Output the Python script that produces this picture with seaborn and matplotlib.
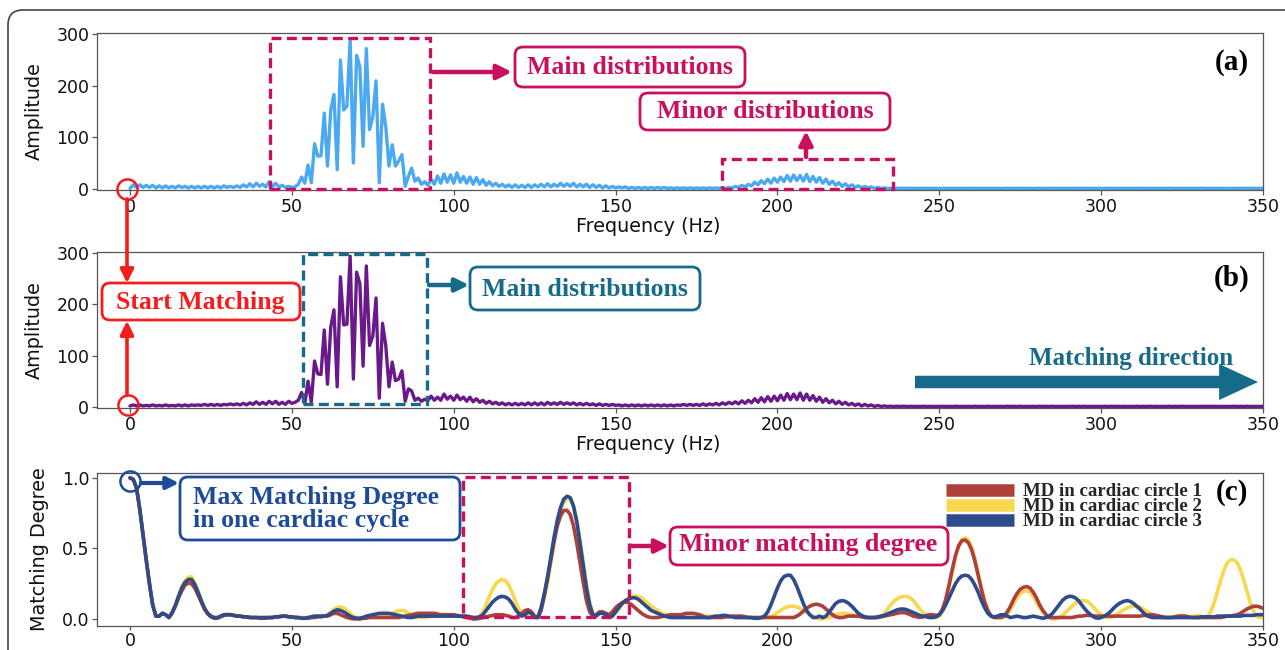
import matplotlib
matplotlib.use("Agg")
import numpy as np
import pandas as pd
import seaborn as sns
import matplotlib.pyplot as plt
from matplotlib.patches import Rectangle, FancyBboxPatch, FancyArrowPatch

# ---------------- data ----------------
freq = list(range(0, 351))

amp_a = [
    2, 9, 4, 9, 4, 8, 4, 8, 3, 7,
    3, 7, 3, 6, 3, 7, 4, 6, 3, 6,
    3, 6, 3, 6, 3, 6, 3, 6, 3, 7,
    4, 6, 4, 7, 4, 9, 5, 11, 5, 12,
    6, 10, 5, 15, 6, 12, 5, 8, 4, 6,
    4, 5, 10, 24, 12, 47, 13, 88, 64, 65,
    147, 45, 153, 183, 38, 249, 153, 160, 288, 51,
    258, 236, 83, 271, 115, 140, 209, 13, 164, 121,
    45, 86, 45, 55, 67, 6, 25, 41, 16, 22,
    10, 15, 8, 20, 10, 26, 12, 30, 14, 28,
    12, 32, 14, 25, 12, 24, 10, 23, 10, 19,
    8, 15, 7, 12, 6, 10, 5, 9, 4, 9,
    4, 8, 4, 9, 4, 9, 5, 10, 5, 11,
    5, 10, 6, 12, 6, 11, 6, 12, 5, 10,
    5, 10, 4, 9, 4, 8, 3, 7, 3, 6,
    3, 5, 3, 5, 2, 4, 2, 4, 2, 4,
    2, 4, 2, 4, 2, 4, 2, 3, 2, 3,
    2, 3, 2, 3, 2, 3, 2, 3, 2, 3,
    2, 3, 2, 3, 2, 4, 3, 6, 4, 8,
    5, 10, 7, 14, 9, 17, 11, 20, 12, 22,
    14, 24, 15, 27, 16, 28, 17, 27, 16, 29,
    15, 25, 14, 23, 12, 20, 10, 16, 8, 13,
    6, 11, 5, 9, 4, 7, 3, 6, 3, 5,
    2, 4, 2, 3, 2, 2.5, 2, 2.5, 2, 2.5,
    2, 2.4, 2, 2.3, 2, 2.4, 2, 2.3, 2, 2.2,
    2, 2.4, 2, 2.3, 2, 2.4, 2, 2.3, 2, 2.2,
    2, 2.4, 2, 2.3, 2, 2.4, 2, 2.3, 2, 2.2,
    2, 2.4, 2, 2.3, 2, 2.4, 2, 2.3, 2, 2.2,
    2, 2.4, 2, 2.3, 2, 2.4, 2, 2.3, 2, 2.2,
    2, 2.4, 2, 2.3, 2, 2.4, 2, 2.3, 2, 2.2,
    2, 2.4, 2, 2.3, 2, 2.4, 2, 2.3, 2, 2.2,
    2, 2.4, 2, 2.3, 2, 2.4, 2, 2.3, 2, 2.2,
    2, 2.4, 2, 2.3, 2, 2.4, 2, 2.3, 2, 2.2,
    2, 2.4, 2, 2.3, 2, 2.4, 2, 2.3, 2, 2.2,
    2, 2.4, 2, 2.3, 2, 2.4, 2, 2.3, 2, 2.2,
    2,
]

amp_b = [
    3, 5, 3, 5, 3, 4, 3, 5, 3, 4,
    3, 5, 3, 4, 3, 5, 3, 5, 3, 5,
    4, 5, 4, 6, 4, 6, 4, 6, 4, 6,
    5, 7, 5, 7, 5, 8, 5, 9, 6, 11,
    6, 10, 6, 12, 7, 12, 6, 10, 6, 12,
    8, 10, 14, 29, 8, 51, 10, 90, 65, 64,
    150, 45, 155, 189, 40, 253, 160, 161, 293, 55,
    262, 240, 80, 274, 120, 138, 212, 18, 163, 120,
    40, 88, 52, 55, 71, 12, 36, 32, 14, 18,
    12, 16, 13, 22, 14, 20, 14, 26, 16, 22,
    14, 24, 15, 20, 12, 20, 11, 17, 10, 14,
    8, 12, 7, 10, 6, 9, 5, 8, 5, 8,
    5, 8, 5, 9, 5, 9, 5, 9, 5, 10,
    6, 9, 6, 10, 6, 9, 6, 9, 5, 8,
    5, 8, 5, 7, 4, 7, 4, 6, 4, 6,
    4, 5, 3, 5, 3, 5, 3, 5, 3, 5,
    3, 5, 3, 5, 3, 5, 3, 5, 3, 5,
    4, 6, 4, 6, 4, 6, 4, 7, 4, 7,
    5, 8, 5, 9, 6, 10, 7, 11, 7, 13,
    8, 14, 9, 17, 10, 19, 11, 21, 12, 22,
    13, 24, 14, 27, 15, 26, 15, 28, 14, 26,
    14, 23, 12, 20, 10, 17, 9, 14, 7, 12,
    6, 10, 5, 8, 4, 7, 3, 6, 3, 5,
    2, 4, 2, 3, 2, 2.5, 2, 2.5, 2, 2.5,
    2, 2.4, 2, 2.3, 2, 2.4, 2, 2.3, 2, 2.2,
    2, 2.4, 2, 2.3, 2, 2.4, 2, 2.3, 2, 2.2,
    2, 2.4, 2, 2.3, 2, 2.4, 2, 2.3, 2, 2.2,
    2, 2.4, 2, 2.3, 2, 2.4, 2, 2.3, 2, 2.2,
    2, 2.4, 2, 2.3, 2, 2.4, 2, 2.3, 2, 2.2,
    2, 2.4, 2, 2.3, 2, 2.4, 2, 2.3, 2, 2.2,
    2, 2.4, 2, 2.3, 2, 2.4, 2, 2.3, 2, 2.2,
    2, 2.4, 2, 2.3, 2, 2.4, 2, 2.3, 2, 2.2,
    2, 2.4, 2, 2.3, 2, 2.4, 2, 2.3, 2, 2.2,
    2, 2.4, 2, 2.3, 2, 2.4, 2, 2.3, 2, 2.2,
    2, 2.4, 2, 2.3, 2, 2.4, 2, 2.3, 2, 2.2,
    2,
]

md_circle1 = [
    1.0, 0.99, 0.93, 0.78, 0.6, 0.42, 0.25, 0.1, 0.02, 0.02,
    0.04, 0.03, 0.01, 0.04, 0.09, 0.15, 0.2, 0.24, 0.255, 0.25,
    0.22, 0.17, 0.12, 0.07, 0.035, 0.015, 0.005, 0.005, 0.015, 0.025,
    0.03, 0.03, 0.025, 0.02, 0.02, 0.015, 0.015, 0.01, 0.01, 0.01,
    0.005, 0.005, 0.005, 0.01, 0.01, 0.015, 0.015, 0.02, 0.02, 0.015,
    0.015, 0.01, 0.01, 0.005, 0.005, 0.005, 0.01, 0.01, 0.015, 0.015,
    0.02, 0.02, 0.03, 0.04, 0.04, 0.03, 0.02, 0.01, 0.005, 0.0,
    0.0, 0.0, 0.005, 0.005, 0.01, 0.01, 0.01, 0.01, 0.01, 0.01,
    0.01, 0.01, 0.01, 0.01, 0.015, 0.02, 0.025, 0.03, 0.035, 0.04,
    0.04, 0.04, 0.04, 0.04, 0.04, 0.035, 0.03, 0.03, 0.03, 0.03,
    0.03, 0.025, 0.02, 0.015, 0.01, 0.005, 0.0, 0.0, 0.005, 0.01,
    0.015, 0.02, 0.025, 0.03, 0.03, 0.03, 0.025, 0.02, 0.01, 0.01,
    0.02, 0.04, 0.06, 0.065, 0.05, 0.02, 0.01, 0.06, 0.17, 0.29,
    0.42, 0.55, 0.66, 0.73, 0.77, 0.77, 0.74, 0.66, 0.54, 0.4,
    0.26, 0.13, 0.05, 0.02, 0.03, 0.05, 0.05, 0.04, 0.03, 0.05,
    0.08, 0.1, 0.115, 0.12, 0.115, 0.1, 0.08, 0.06, 0.04, 0.025,
    0.015, 0.01, 0.01, 0.01, 0.015, 0.02, 0.025, 0.03, 0.03, 0.03,
    0.03, 0.035, 0.04, 0.04, 0.04, 0.035, 0.03, 0.02, 0.01, 0.01,
    0.01, 0.01, 0.01, 0.01, 0.015, 0.015, 0.02, 0.02, 0.02, 0.02,
    0.015, 0.01, 0.01, 0.01, 0.01, 0.01, 0.01, 0.01, 0.01, 0.01,
    0.01, 0.01, 0.01, 0.01, 0.01, 0.01, 0.02, 0.035, 0.055, 0.075,
    0.09, 0.1, 0.105, 0.1, 0.09, 0.07, 0.05, 0.03, 0.015, 0.01,
    0.01, 0.015, 0.02, 0.02, 0.02, 0.02, 0.015, 0.01, 0.01, 0.01,
    0.01, 0.01, 0.015, 0.02, 0.025, 0.03, 0.035, 0.04, 0.045, 0.045,
    0.04, 0.03, 0.02, 0.015, 0.01, 0.015, 0.025, 0.03, 0.03, 0.025,
    0.03, 0.07, 0.14, 0.24, 0.35, 0.45, 0.52, 0.555, 0.56, 0.54,
    0.49, 0.41, 0.31, 0.21, 0.12, 0.06, 0.02, 0.01, 0.01, 0.01,
    0.02, 0.05, 0.09, 0.14, 0.18, 0.21, 0.225, 0.23, 0.22, 0.19,
    0.15, 0.1, 0.06, 0.03, 0.01, 0.01, 0.01, 0.01, 0.01, 0.01,
    0.01, 0.01, 0.015, 0.02, 0.02, 0.025, 0.025, 0.025, 0.02, 0.02,
    0.02, 0.02, 0.02, 0.02, 0.02, 0.02, 0.02, 0.02, 0.02, 0.02,
    0.02, 0.02, 0.02, 0.025, 0.025, 0.03, 0.03, 0.025, 0.02, 0.015,
    0.01, 0.01, 0.01, 0.015, 0.02, 0.02, 0.02, 0.015, 0.01, 0.01,
    0.01, 0.01, 0.01, 0.01, 0.01, 0.01, 0.01, 0.01, 0.015, 0.02,
    0.02, 0.025, 0.03, 0.04, 0.055, 0.07, 0.08, 0.09, 0.09, 0.085,
    0.075,
]

md_circle2 = [
    1.0, 0.99, 0.93, 0.78, 0.6, 0.42, 0.25, 0.1, 0.02, 0.02,
    0.04, 0.03, 0.01, 0.05, 0.1, 0.17, 0.23, 0.27, 0.295, 0.3,
    0.26, 0.2, 0.14, 0.08, 0.04, 0.02, 0.01, 0.01, 0.02, 0.03,
    0.035, 0.03, 0.03, 0.025, 0.02, 0.02, 0.015, 0.015, 0.01, 0.01,
    0.01, 0.01, 0.01, 0.01, 0.01, 0.015, 0.02, 0.02, 0.02, 0.02,
    0.015, 0.015, 0.01, 0.01, 0.01, 0.01, 0.015, 0.02, 0.02, 0.02,
    0.02, 0.03, 0.05, 0.07, 0.08, 0.085, 0.08, 0.06, 0.04, 0.02,
    0.01, 0.01, 0.01, 0.015, 0.02, 0.03, 0.03, 0.025, 0.02, 0.02,
    0.03, 0.04, 0.05, 0.06, 0.06, 0.055, 0.04, 0.03, 0.015, 0.01,
    0.01, 0.01, 0.015, 0.02, 0.025, 0.03, 0.03, 0.03, 0.03, 0.03,
    0.03, 0.025, 0.02, 0.02, 0.02, 0.015, 0.01, 0.01, 0.02, 0.05,
    0.1, 0.16, 0.21, 0.25, 0.27, 0.28, 0.27, 0.24, 0.19, 0.13,
    0.08, 0.04, 0.02, 0.02, 0.02, 0.01, 0.02, 0.08, 0.15, 0.26,
    0.4, 0.54, 0.67, 0.77, 0.83, 0.85, 0.85, 0.8, 0.71, 0.57,
    0.41, 0.25, 0.12, 0.04, 0.02, 0.04, 0.05, 0.04, 0.02, 0.02,
    0.04, 0.07, 0.1, 0.13, 0.15, 0.16, 0.165, 0.16, 0.15, 0.13,
    0.11, 0.09, 0.075, 0.06, 0.045, 0.035, 0.03, 0.02, 0.02, 0.02,
    0.015, 0.01, 0.01, 0.01, 0.01, 0.01, 0.01, 0.015, 0.02, 0.02,
    0.02, 0.02, 0.02, 0.02, 0.02, 0.02, 0.015, 0.01, 0.01, 0.01,
    0.01, 0.01, 0.01, 0.01, 0.01, 0.01, 0.01, 0.015, 0.02, 0.03,
    0.045, 0.06, 0.075, 0.085, 0.09, 0.09, 0.085, 0.075, 0.06, 0.045,
    0.03, 0.02, 0.01, 0.0, 0.0, 0.005, 0.01, 0.02, 0.03, 0.035,
    0.04, 0.04, 0.035, 0.03, 0.025, 0.02, 0.015, 0.01, 0.01, 0.01,
    0.01, 0.01, 0.02, 0.04, 0.07, 0.1, 0.125, 0.145, 0.155, 0.16,
    0.16, 0.15, 0.13, 0.1, 0.07, 0.045, 0.025, 0.015, 0.01, 0.01,
    0.02, 0.05, 0.12, 0.22, 0.33, 0.44, 0.52, 0.565, 0.575, 0.56,
    0.51, 0.43, 0.33, 0.22, 0.13, 0.06, 0.02, 0.01, 0.01, 0.01,
    0.01, 0.03, 0.07, 0.11, 0.15, 0.18, 0.195, 0.2, 0.19, 0.16,
    0.12, 0.08, 0.05, 0.02, 0.01, 0.0, 0.0, 0.01, 0.025, 0.045,
    0.07, 0.09, 0.11, 0.125, 0.13, 0.13, 0.12, 0.1, 0.075, 0.05,
    0.03, 0.015, 0.01, 0.01, 0.02, 0.035, 0.05, 0.065, 0.078, 0.087,
    0.09, 0.09, 0.085, 0.07, 0.055, 0.04, 0.025, 0.015, 0.01, 0.01,
    0.01, 0.01, 0.015, 0.02, 0.025, 0.025, 0.02, 0.015, 0.015, 0.02,
    0.025, 0.02, 0.01, 0.02, 0.06, 0.12, 0.2, 0.28, 0.35, 0.4,
    0.42, 0.42, 0.4, 0.35, 0.28, 0.2, 0.12, 0.06, 0.02, 0.01,
    0.01,
]

md_circle3 = [
    1.0, 0.99, 0.93, 0.78, 0.6, 0.42, 0.25, 0.1, 0.02, 0.02,
    0.04, 0.03, 0.01, 0.045, 0.095, 0.16, 0.22, 0.26, 0.28, 0.28,
    0.245, 0.19, 0.13, 0.075, 0.04, 0.02, 0.01, 0.01, 0.02, 0.03,
    0.03, 0.03, 0.025, 0.02, 0.02, 0.015, 0.015, 0.01, 0.01, 0.01,
    0.01, 0.01, 0.01, 0.01, 0.01, 0.015, 0.015, 0.02, 0.02, 0.015,
    0.015, 0.01, 0.01, 0.005, 0.005, 0.01, 0.015, 0.02, 0.02, 0.02,
    0.02, 0.025, 0.04, 0.055, 0.065, 0.06, 0.05, 0.035, 0.02, 0.01,
    0.005, 0.005, 0.01, 0.02, 0.025, 0.03, 0.035, 0.04, 0.04, 0.04,
    0.04, 0.035, 0.03, 0.025, 0.02, 0.015, 0.01, 0.01, 0.015, 0.02,
    0.02, 0.02, 0.02, 0.02, 0.02, 0.02, 0.02, 0.02, 0.02, 0.02,
    0.02, 0.02, 0.02, 0.02, 0.02, 0.015, 0.01, 0.01, 0.015, 0.03,
    0.06, 0.09, 0.12, 0.14, 0.155, 0.16, 0.155, 0.14, 0.11, 0.07,
    0.04, 0.02, 0.03, 0.05, 0.04, 0.01, 0.01, 0.08, 0.18, 0.3,
    0.44, 0.58, 0.7, 0.79, 0.85, 0.87, 0.86, 0.8, 0.69, 0.54,
    0.38, 0.22, 0.1, 0.03, 0.02, 0.04, 0.04, 0.03, 0.01, 0.02,
    0.05, 0.08, 0.11, 0.13, 0.14, 0.15, 0.15, 0.14, 0.12, 0.1,
    0.08, 0.06, 0.05, 0.04, 0.03, 0.02, 0.015, 0.01, 0.01, 0.01,
    0.01, 0.01, 0.01, 0.01, 0.01, 0.01, 0.01, 0.01, 0.01, 0.01,
    0.015, 0.02, 0.02, 0.025, 0.025, 0.02, 0.015, 0.01, 0.01, 0.01,
    0.01, 0.01, 0.01, 0.005, 0.005, 0.01, 0.02, 0.05, 0.1, 0.16,
    0.22, 0.27, 0.3, 0.31, 0.31, 0.28, 0.23, 0.17, 0.11, 0.06,
    0.03, 0.01, 0.01, 0.02, 0.01, 0.02, 0.05, 0.08, 0.11, 0.125,
    0.13, 0.125, 0.11, 0.09, 0.065, 0.04, 0.025, 0.015, 0.01, 0.01,
    0.01, 0.015, 0.02, 0.025, 0.035, 0.045, 0.055, 0.065, 0.07, 0.07,
    0.065, 0.055, 0.045, 0.035, 0.025, 0.02, 0.015, 0.01, 0.01, 0.015,
    0.03, 0.06, 0.1, 0.15, 0.2, 0.25, 0.285, 0.305, 0.31, 0.305,
    0.28, 0.24, 0.19, 0.13, 0.08, 0.04, 0.02, 0.015, 0.02, 0.03,
    0.03, 0.02, 0.01, 0.015, 0.02, 0.015, 0.01, 0.01, 0.015, 0.02,
    0.015, 0.01, 0.005, 0.01, 0.02, 0.04, 0.07, 0.1, 0.13, 0.15,
    0.16, 0.16, 0.15, 0.13, 0.1, 0.07, 0.045, 0.025, 0.01, 0.005,
    0.01, 0.02, 0.035, 0.055, 0.08, 0.1, 0.115, 0.125, 0.13, 0.125,
    0.11, 0.09, 0.07, 0.045, 0.025, 0.015, 0.01, 0.01, 0.01, 0.01,
    0.01, 0.01, 0.01, 0.01, 0.01, 0.01, 0.01, 0.01, 0.01, 0.01,
    0.01, 0.015, 0.015, 0.015, 0.015, 0.015, 0.02, 0.02, 0.02, 0.02,
    0.02, 0.02, 0.02, 0.02, 0.025, 0.025, 0.025, 0.025, 0.03, 0.03,
    0.03,
]

md_labels = ["MD in cardiac circle 1", "MD in cardiac circle 2", "MD in cardiac circle 3"]
x_ticks = [0, 50, 100, 150, 200, 250, 300, 350]
amp_ticks = [0, 100, 200, 300]
md_ticks = [0.0, 0.5, 1.0]

# ---------------- style ----------------
W, H = 1285, 650
sns.set_theme(style="ticks")
plt.rcParams["font.family"] = ["DejaVu Sans"]

C_A = "#4BA9F2"
C_B = "#69198A"
C_R = "#AF3F3B"
C_Y = "#F8D84E"
C_N = "#2E4C8C"
CRIM = "#C8105E"
TEAL = "#166A8A"
RED = "#F41C1C"
NAVY = "#1E4A9A"
SERIF = "Liberation Serif"

fig = plt.figure(figsize=(W / 100, H / 100), dpi=100)
fig.patch.set_facecolor("white")

axA = fig.add_axes([97 / W, 1 - 190 / H, 1166 / W, 157 / H])
axB = fig.add_axes([97 / W, 1 - 408 / H, 1166 / W, 156 / H])
axC = fig.add_axes([97 / W, 1 - 626 / H, 1166 / W, 153 / H])

dfA = pd.DataFrame({"f": freq, "a": amp_a})
dfB = pd.DataFrame({"f": freq, "a": amp_b})
sns.lineplot(data=dfA, x="f", y="a", ax=axA, color=C_A, linewidth=2.4)
sns.lineplot(data=dfB, x="f", y="a", ax=axB, color=C_B, linewidth=2.4)

dfC = pd.DataFrame({"f": freq, "c1": md_circle1, "c2": md_circle2, "c3": md_circle3})
lY = sns.lineplot(data=dfC, x="f", y="c2", ax=axC, color=C_Y, linewidth=2.6).lines[-1]
lR = sns.lineplot(data=dfC, x="f", y="c1", ax=axC, color=C_R, linewidth=2.6).lines[-1]
lN = sns.lineplot(data=dfC, x="f", y="c3", ax=axC, color=C_N, linewidth=2.6).lines[-1]

for ax in (axA, axB, axC):
    ax.set_xlim(-10.2, 350)
    ax.set_xticks(x_ticks)
    ax.set_xticklabels([str(t) for t in x_ticks])
    for s in ax.spines.values():
        s.set_visible(True)
        s.set_color("#555555")
        s.set_linewidth(0.9)
    ax.tick_params(axis="both", labelsize=12.5, length=3.5, width=0.9,
                   color="#555555", labelcolor="#111111", pad=2)

axC.tick_params(axis="x", pad=1, length=3)

for ax in (axA, axB):
    ax.set_ylim(-1, 301)
    ax.set_yticks(amp_ticks)
    ax.set_ylabel("Amplitude", fontsize=13.8, labelpad=9, color="#111111")
    ax.set_xlabel("Frequency (Hz)", fontsize=13.8, color="#111111")
    ax.xaxis.set_label_coords((648 - 97) / 1166, -0.175)

axC.set_ylim(-0.05, 1.035)
axC.set_yticks(md_ticks)
axC.set_yticklabels(["0.0", "0.5", "1.0"])
axC.set_ylabel("Matching Degree", fontsize=13.8, labelpad=9, color="#111111")
axC.set_xlabel("")

# ---------------- helpers (figure pixel coordinates, y from top) ----------------
def inch(x, y):
    return (x / 100, (H - y) / 100)

def box(x0, y0, x1, y1, color, lw=2.0):
    p = FancyBboxPatch(inch(x0, y1), (x1 - x0) / 100, (y1 - y0) / 100,
                       boxstyle="round,pad=0,rounding_size=0.08",
                       transform=fig.dpi_scale_trans, fc="white", ec=color, lw=lw,
                       zorder=5)
    fig.add_artist(p)

def arrow(x0, y0, x1, y1, color, lw=3.0, ms=20, style="-|>"):
    a = FancyArrowPatch(inch(x0, y0), inch(x1, y1), transform=fig.dpi_scale_trans,
                        arrowstyle=style, mutation_scale=ms, color=color, lw=lw,
                        shrinkA=0, shrinkB=0, zorder=6)
    fig.add_artist(a)

def label(x, y, s, color, size=18.5, ha="center", **kw):
    fig.text(x / W, 1 - y / H, s, ha=ha, va="center", color=color, fontsize=size,
             family=SERIF, weight="bold", zorder=7, **kw)

dash = (0, (3, 1.6))

# panel (a)
axA.add_patch(Rectangle((43.3, 1), 92.8 - 43.3, 291, fill=False, ec=CRIM, lw=2.4,
                        ls=dash, clip_on=False, zorder=4))
axA.add_patch(Rectangle((183, 0.5), 235.6 - 183, 59, fill=False, ec=CRIM, lw=2.4,
                        ls=dash, clip_on=False, zorder=4))
arrow(433, 72, 512, 72, CRIM, lw=3.2, ms=22)
box(515, 47, 745, 87, CRIM)
label(630, 67, "Main distributions", CRIM)
arrow(806, 157, 806, 131, CRIM, lw=3.2, ms=20)
box(640, 93, 890, 130, CRIM)
label(765, 112, "Minor distributions", CRIM)
label(1232, 62, "(a)", "black", size=21)
axA.plot([-1], [0], marker="o", ms=14.5, mfc="none", mec=RED, mew=1.8,
         clip_on=False, zorder=6)

# start matching
arrow(127, 199, 127, 283, RED, lw=2.6, ms=20)
arrow(127, 395, 127, 321, RED, lw=2.6, ms=20)
box(102, 283, 300, 320, RED)
label(200, 302, "Start Matching", RED)

# panel (b)
axB.add_patch(Rectangle((53.5, 6), 91.8 - 53.5, 292, fill=False, ec=TEAL, lw=2.4,
                        ls=dash, clip_on=False, zorder=4))
axB.plot([-0.6], [5], marker="o", ms=14.5, mfc="none", mec=RED, mew=1.8,
         clip_on=False, zorder=6)
arrow(429, 285, 469, 285, TEAL, lw=3.2, ms=20)
box(470, 267, 700, 310, TEAL)
label(585, 290, "Main distributions", TEAL)
label(1131, 358, "Matching direction", TEAL, size=18)
arrow(915, 382, 1258, 382, TEAL, lw=0, ms=20,
      style="simple,tail_width=0.45,head_width=1.3,head_length=1.4")
label(1232, 278, "(b)", "black", size=21)

# panel (c)
axC.plot([0], [0.98], marker="o", ms=14.5, mfc="none", mec=NAVY, mew=1.8,
         clip_on=False, zorder=6)
arrow(141, 483, 179, 483, NAVY, lw=3.0, ms=18)
box(180, 477, 460, 540, NAVY)
label(193, 509, "Max Matching Degree\nin one cardiac cycle", NAVY, size=18.5, ha="left",
      linespacing=1.05)
axC.add_patch(Rectangle((103, 0.014), 154 - 103, 0.993, fill=False, ec=CRIM, lw=2.4,
                        ls=dash, clip_on=False, zorder=4))
arrow(630, 546, 669, 546, CRIM, lw=3.2, ms=20)
box(670, 527, 948, 565, CRIM)
label(808, 545, "Minor matching degree", CRIM)
label(1232, 493, "(c)", "black", size=21)

leg = axC.legend(handles=[lR, lY, lN], labels=md_labels, loc="upper right",
                 bbox_to_anchor=inch(1202, 483), bbox_transform=fig.dpi_scale_trans,
                 frameon=False, borderpad=0, borderaxespad=0, labelspacing=-0.12,
                 handlelength=3.6, handletextpad=0.5,
                 prop={"family": SERIF, "weight": "bold", "size": 13.6})
for h in leg.legend_handles:
    h.set_linewidth(9)
    h.set_solid_capstyle("butt")
leg.set_zorder(8)

# outer rounded frame
frame = FancyBboxPatch((0.08, -0.4), 13.4, 6.8, boxstyle="round,pad=0,rounding_size=0.15",
                       transform=fig.dpi_scale_trans, fc="none", ec="#444444", lw=1.2,
                       zorder=10)
fig.add_artist(frame)

fig.savefig("out.png", dpi=100, facecolor="white")
